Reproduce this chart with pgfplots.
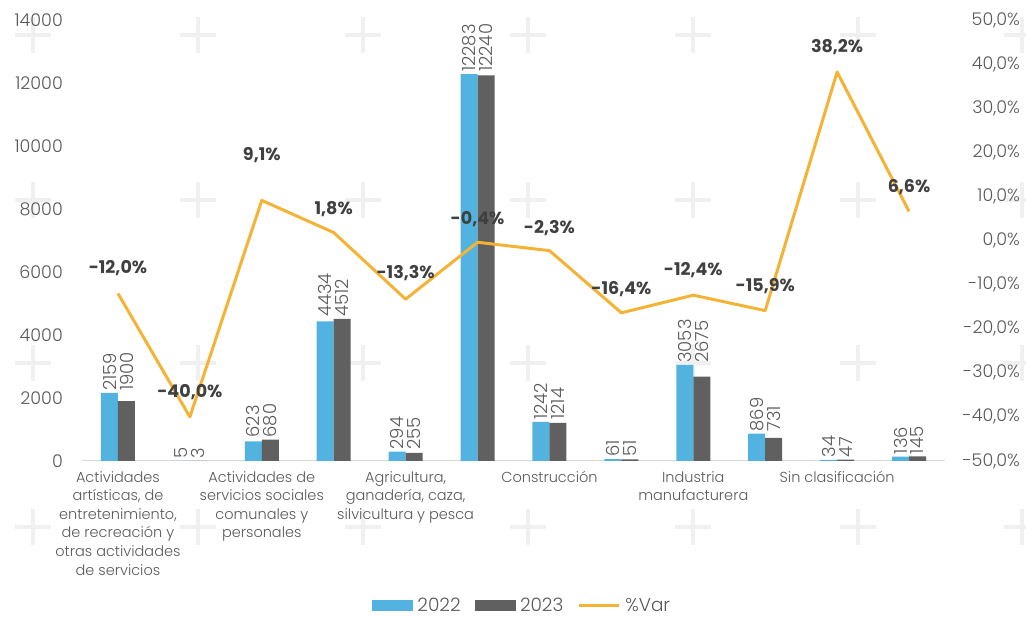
\documentclass[border=0pt]{standalone}
\usepackage{pgfplots}
\pgfplotsset{compat=1.18}
\usepackage{pgfplotstable}
\usepackage{fontspec}
\setmainfont{Poppins}[UprightFont=* Light, BoldFont=* Bold]
\definecolor{cA}{HTML}{52B2E0}
\definecolor{cB}{HTML}{606060}
\definecolor{cL}{HTML}{F5B335}
\definecolor{tx}{HTML}{595959}
\definecolor{tb}{HTML}{404040}
\definecolor{wm}{HTML}{F0F0F0}
\pgfplotsset{/pgf/number format/assume math mode=true, /pgf/number format/1000 sep={}}

\pgfplotstableread{
x a b m
0 2159 1900 2159
1 5 3 5
2 623 680 680
3 4434 4512 4512
4 294 255 294
5 12283 12240 12283
6 1242 1214 1242
7 61 51 61
8 3053 2675 3053
9 869 731 869
10 34 47 47
11 136 145 145
}\bars

\pgfplotstableread{
x v off
0 -12.0 25
1 -40.0 25
2 9.1 45
3 1.8 23
4 -13.3 26
5 -0.4 23
6 -2.3 23
7 -16.4 24
8 -12.4 25
9 -15.9 25
10 38.2 25
11 6.6 24
}\lines

\begin{document}
\begin{tikzpicture}[x=1pt,y=1pt]
\useasboundingbox (-82,-156) rectangle (944,461);
\foreach \cx in {33,198,363,528,693,858,1022}{
  \foreach \cy in {35,200,363,527}{
    \draw[line width=4pt, color=wm] ({\cx-82-18},{461-\cy}) -- ++(36,0);
    \draw[line width=4pt, color=wm] ({\cx-82},{461-\cy-18}) -- ++(0,36);
  }
}
\begin{axis}[
  at={(0,0)}, anchor=south west,
  scale only axis, width=863pt, height=441pt,
  xmin=-0.5, xmax=11.5, ymin=0, ymax=14000,
  scaled y ticks=false,
  xtick={0,2,4,6,8,10},
  xticklabels={{Actividades\\artísticas, de\\entretenimiento,\\de recreación y\\otras actividades\\de servicios},
    {Actividades de\\servicios sociales\\comunales y\\personales},
    {Agricultura,\\ganadería, caza,\\silvicultura y pesca},
    {Construcción},
    {Industria\\manufacturera},
    {Sin clasificación}},
  ytick={0,2000,...,14000},
  major tick length=0pt,
  axis x line*=bottom, axis y line*=left,
  x axis line style={draw=black!15, line width=1pt, -},
  y axis line style={draw=none},
  yticklabel style={font=\fontsize{17.5}{17.5}\selectfont, text=tx, anchor=east, inner sep=0pt, xshift=-19pt},
  xticklabel style={font=\fontsize{14.5}{18.6}\selectfont, text=tx, align=center, anchor=north, inner sep=0pt, yshift=-10pt},
  clip=false,
]
\addplot[ybar, bar width=17pt, bar shift=-8.5pt, fill=cA, draw=none] table[x=x,y=a]{\bars};
\addplot[ybar, bar width=17pt, bar shift=8.5pt, fill=cB, draw=none] table[x=x,y=b]{\bars};
\addplot[only marks, mark=none,
  nodes near coords, point meta=explicit,
  nodes near coords style={xshift=-8.5pt, rotate=90, anchor=west, font=\fontsize{18}{18}\selectfont, text=tx, inner sep=2pt}]
  table[x=x,y=m,meta=a]{\bars};
\addplot[only marks, mark=none,
  nodes near coords, point meta=explicit,
  nodes near coords style={xshift=8.5pt, rotate=90, anchor=west, font=\fontsize{18}{18}\selectfont, text=tx, inner sep=2pt}]
  table[x=x,y=m,meta=b]{\bars};
\end{axis}
\begin{axis}[
  at={(0,0)}, anchor=south west,
  scale only axis, width=863pt, height=441pt,
  xmin=-0.5, xmax=11.5, ymin=-50, ymax=50,
  ytick={-50,-40,...,50},
  major tick length=0pt,
  axis y line*=right, axis x line=none,
  y axis line style={draw=none},
  yticklabel={\pgfmathprintnumber[fixed,fixed zerofill,precision=1,use comma]{\tick}\%},
  yticklabel style={font=\fontsize{17.5}{17.5}\selectfont, text=tx, anchor=east, inner sep=0pt, xshift=75pt},
  clip=false,
  legend columns=3,
  legend style={draw=none, fill=none, at={(0.51,-0.327)}, anchor=center, inner sep=0pt,
    font=\fontsize{18.5}{18.5}\selectfont, text=tx,
    /tikz/every odd column/.append style={column sep=3pt},
    /tikz/every even column/.append style={column sep=12pt}},
]
\addlegendimage{legend image code/.code={\fill[cA] (0pt,-5pt) rectangle (40pt,5pt);}}
\addlegendentry{2022}
\addlegendimage{legend image code/.code={\fill[cB] (0pt,-5pt) rectangle (40pt,5pt);}}
\addlegendentry{2023}
\addplot[cL, line width=3pt, line join=round, mark=none,
  legend image code/.code={\draw[cL, line width=3pt] (0pt,0pt) -- (40pt,0pt);},
  point meta=explicit,
  visualization depends on={\thisrow{off}\as\off},
  nodes near coords={\pgfmathprintnumber[fixed,fixed zerofill,precision=1,use comma]{\pgfplotspointmeta}\%},
  nodes near coords style={anchor=center, yshift=\off pt, font=\bfseries\fontsize{17.5}{17.5}\selectfont, text=tb}]
  table[x=x,y=v,meta=v]{\lines};
\addlegendentry{\%Var}
\end{axis}
\end{tikzpicture}
\end{document}
